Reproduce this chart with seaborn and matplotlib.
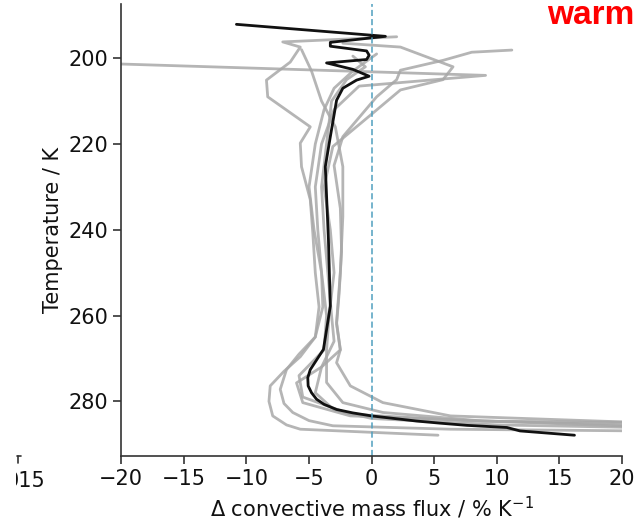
import seaborn as sns
import matplotlib.pyplot as plt
import pandas as pd
from matplotlib.patches import Rectangle
from matplotlib.lines import Line2D

# Ensemble member profiles: (temperature / K, change in mass flux / % K^-1)
m1_t = [200.9, 204.0, 206.5, 212, 220, 230, 240, 250, 260, 268, 274, 279, 283, 284.6, 285.0]
m1_v = [-25, 9.1, -1.0, -3.0, -4.0, -4.5, -4.3, -4.0, -3.6, -3.8, -5.8, -5.5, -1.7, 8.0, 25]

m2_t = [198.1, 198.6, 200.5, 202.8, 205, 209, 218.3, 225, 235, 245, 255, 262, 268, 271, 276.4, 280.3, 283.4, 285.3]
m2_v = [11.2, 8.0, 5.7, 2.3, 2.0, 0.4, -2.3, -3.0, -2.5, -2.4, -2.6, -2.8, -2.5, -2.8, -1.7, 0.9, 6.3, 25]

m3_t = [196.5, 197.4, 202, 205, 207.4, 212.8, 220.6, 230, 240, 250, 260, 268, 275.6, 280.3, 282.6, 284.6, 285.8]
m3_v = [-2.3, 2.3, 6.5, 5.7, 2.3, 0.1, -3.1, -3.8, -3.3, -3.0, -3.4, -3.6, -3.6, -2.3, 0.9, 8.9, 25]

m4_t = [195.0, 196.2, 197.4, 200.9, 205.1, 209, 216, 219.8, 225.3, 233, 240.7, 250, 258, 265, 269.6,
        273, 276.4, 280, 283.4, 285.5, 286.5, 287.9]
m4_v = [2.0, -7.1, -5.7, -6.5, -8.4, -8.3, -4.9, -5.7, -5.6, -4.9, -4.7, -4.5, -4.2, -4.5, -5.7,
        -7.0, -8.1, -8.2, -7.9, -6.8, -5.7, 5.3]

m5_t = [198.0, 203, 210, 216, 225.3, 236.9, 250, 261.6, 268, 272, 275.7, 280.3, 283.4, 286.3]
m5_v = [-5.6, -4.8, -4.0, -2.9, -2.3, -2.3, -2.5, -2.8, -2.5, -4.0, -6.0, -5.5, -1.7, 25]

m6_t = [199.0, 203, 207, 212, 220, 230, 240, 250, 258, 265, 269, 272.6, 277.2, 280.5, 282.6, 284.5, 285.7, 286.5, 287.0]
m6_v = [0.4, -1.5, -3.0, -3.8, -4.5, -5.0, -4.6, -4.0, -3.9, -4.5, -5.8, -6.8, -7.3, -7.0, -6.3, -5.0, -3.1, 6.3, 25]

m7_t = [199.5, 202, 205, 210, 220, 230, 240, 250, 260, 266, 272, 278, 282, 284, 285.5, 286.3]
m7_v = [-1.5, -0.5, -2.0, -3.2, -3.6, -4.0, -3.8, -3.5, -3.2, -3.0, -4.0, -4.5, -3.0, 0.0, 10, 25]

# Ensemble mean
mean_t = [192.1, 194.9, 196.3, 197.2, 198.3, 199.3, 200.3, 201.1, 202.6, 204.2, 205.1, 207, 209.8,
          218.3, 225.3, 242.3, 257.8, 267.9, 272.6, 274.5, 276.4, 278, 279.5, 280.7, 281.9,
          282.7, 283.4, 284.0, 284.6, 285.1, 285.6, 286.1, 286.9, 287.9]
mean_v = [-10.8, 1.1, -3.3, -3.3, -0.4, -0.2, -0.4, -3.6, -1.5, -0.2, -1.2, -2.3, -2.8,
          -3.3, -3.7, -3.45, -3.3, -3.85, -4.9, -5.1, -5.07, -4.8, -4.4, -3.8, -2.8,
          -1.5, 0.0, 1.8, 3.6, 5.5, 7.6, 10.8, 11.85, 16.2]

members = [(m1_t, m1_v), (m2_t, m2_v), (m3_t, m3_v), (m4_t, m4_v),
           (m5_t, m5_v), (m6_t, m6_v), (m7_t, m7_v)]

sns.set_style('ticks')
plt.rcParams['font.family'] = ['DejaVu Sans']

fig = plt.figure(figsize=(6.38, 5.22), dpi=100)
ax = fig.add_axes([0.19, 0.126, 0.785, 0.866])

for t, v in members:
    df = pd.DataFrame({'T': t, 'dm': v})
    sns.lineplot(data=df, x='dm', y='T', sort=False, estimator=None,
                 color='#a8a8a8', alpha=0.85, lw=2, ax=ax)

df_mean = pd.DataFrame({'T': mean_t, 'dm': mean_v})
sns.lineplot(data=df_mean, x='dm', y='T', sort=False, estimator=None,
             color='#111111', lw=2, ax=ax)

ax.axvline(0, color='#4f9fbf', lw=1.1, ls=(0, (4, 2)))

ax.set_xlim(-20, 20)
ax.set_ylim(292.8, 187.4)
ax.set_xticks([-20, -15, -10, -5, 0, 5, 10, 15, 20])
ax.set_yticks([200, 220, 240, 260, 280])
ax.tick_params(labelsize=15, length=6, width=1.2, color='#333333', labelcolor='#111111')
for s in ['left', 'bottom']:
    ax.spines[s].set_linewidth(1.2)
    ax.spines[s].set_color('#333333')
sns.despine(ax=ax)

ax.set_xlabel('Δ convective mass flux / % K$^{-1}$', fontsize=15, color='#111111')
ax.set_ylabel('Temperature / K', fontsize=15, color='#111111')

fig.text(0.995, 0.954, 'warm', color='red', fontsize=24, fontweight='bold',
         family='Liberation Sans', ha='right', va='baseline')

# clipped remains of the neighbouring panel
fig.text(0.0705, 0.067, '015', fontsize=15, ha='right', va='baseline', color='#111111')
fig.patches.append(Rectangle((0, 0), 0.0255, 0.2, transform=fig.transFigure,
                             facecolor='white', edgecolor='none', zorder=5))
fig.lines.append(Line2D([0.027, 0.033], [0.127, 0.127], transform=fig.transFigure,
                        color='#333333', lw=1.2, zorder=6))
fig.lines.append(Line2D([0.028, 0.028], [0.127, 0.113], transform=fig.transFigure,
                        color='#333333', lw=1.2, zorder=6))

fig.savefig('out.png', dpi=100)
